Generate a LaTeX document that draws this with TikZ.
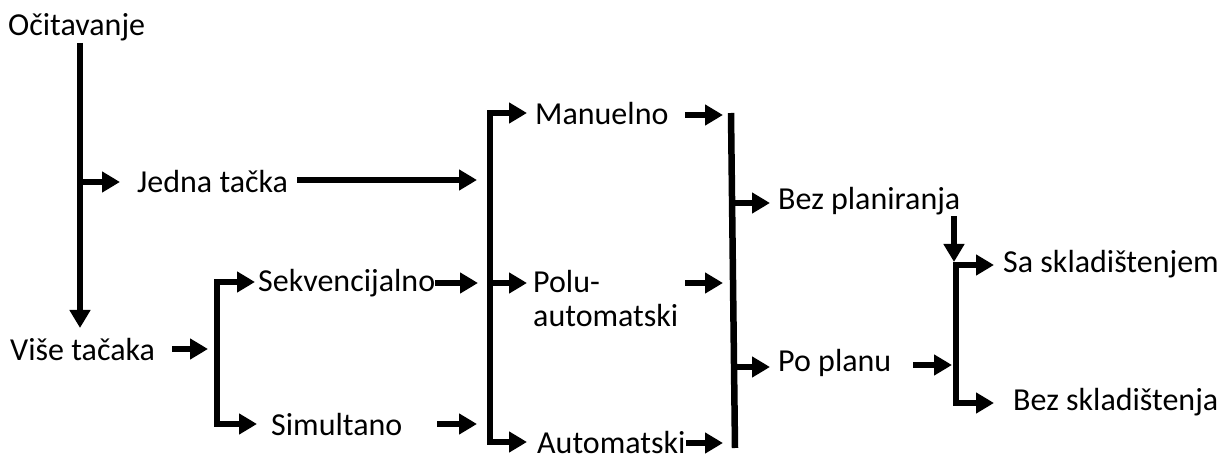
\documentclass[tikz,border=0pt]{standalone}
\usepackage{fontspec}
\setmainfont{Carlito}
\usetikzlibrary{arrows.meta}
\begin{document}
\begin{tikzpicture}[x=1pt,y=-1pt,
  lbl/.style={anchor=base west, inner sep=0pt, font=\fontsize{32}{34}\selectfont},
  conn/.style={line width=6.5pt, -{Triangle[length=18pt,width=20pt]}, line join=miter},
  brk/.style={line width=6.5pt, {Triangle[length=18pt,width=20pt]}-{Triangle[length=18pt,width=20pt]}, line join=miter},
  bar/.style={line width=6.5pt}]
\useasboundingbox (0,0) rectangle (1224,454);
% labels
\node[lbl] (ocit) at (8,36) {Očitavanje};
\node[lbl] (jedna) at (137,193) {Jedna tačka};
\node[lbl] (vise) at (10,360) {Više tačaka};
\node[lbl] (sekv) at (258,292) {Sekvencijalno};
\node[lbl] (simul) at (271,435) {Simultano};
\node[lbl] (manu) at (535,125) {Manuelno};
\node[lbl] (polu) at (533,293) {Polu-};
\node[lbl] (polu2) at (533,327) {automatski};
\node[lbl] (auto) at (537,453) {Automatski};
\node[lbl] (bezpl) at (778,210) {Bez planiranja};
\node[lbl] (poplan) at (778,372) {Po planu};
\node[lbl] (saskl) at (1003,273) {Sa skladištenjem};
\node[lbl] (bezskl) at (1013,410) {Bez skladištenja};
% coordinates
\coordinate (o1) at (80,43);
\coordinate (o2) at (80,328);
\coordinate (jb) at (80,182);
\coordinate (jt) at (120,182);
\coordinate (j1) at (297,180);
\coordinate (j2) at (477,180);
\coordinate (v1) at (172,349);
\coordinate (v2) at (208,349);
\coordinate (s1) at (255,282);
\coordinate (s2) at (257,424);
\coordinate (k1) at (435,283);
\coordinate (k2) at (478,283);
\coordinate (m1) at (437,424);
\coordinate (m2) at (477,424);
\coordinate (A1) at (527,113);
\coordinate (A2) at (527,442);
\coordinate (Ab) at (490,283);
\coordinate (At) at (527,283);
\coordinate (n1) at (685,115);
\coordinate (n2) at (723,115);
\coordinate (p1) at (685,283);
\coordinate (p2) at (723,283);
\coordinate (q1) at (686,443);
\coordinate (q2) at (723,443);
\coordinate (B1) at (731,113);
\coordinate (B2) at (735,448);
\coordinate (bb1) at (733,203);
\coordinate (bt1) at (770,203);
\coordinate (bb2) at (734,367);
\coordinate (bt2) at (770,367);
\coordinate (d1) at (954,216);
\coordinate (d2) at (954,262);
\coordinate (r1) at (913,365);
\coordinate (r2) at (952,365);
\coordinate (C1) at (994,265);
\coordinate (C2) at (994,403);
% connectors
\draw[conn] (o1) -- (o2);
\draw[conn] (jb) -- (jt);
\draw[conn] (j1) -- (j2);
\draw[conn] (v1) -- (v2);
\draw[brk] (s1) -- (217,282) -- (217,424) -- (s2);
\draw[conn] (k1) -- (k2);
\draw[conn] (m1) -- (m2);
\draw[brk] (A1) -- (490,113) -- (490,442) -- (A2);
\draw[conn] (Ab) -- (At);
\draw[conn] (n1) -- (n2);
\draw[conn] (p1) -- (p2);
\draw[conn] (q1) -- (q2);
\draw[bar] (B1) -- (B2);
\draw[conn] (bb1) -- (bt1);
\draw[conn] (bb2) -- (bt2);
\draw[conn] (d1) -- (d2);
\draw[conn] (r1) -- (r2);
\draw[brk] (C1) -- (956,265) -- (956,403) -- (C2);
\end{tikzpicture}
\end{document}
